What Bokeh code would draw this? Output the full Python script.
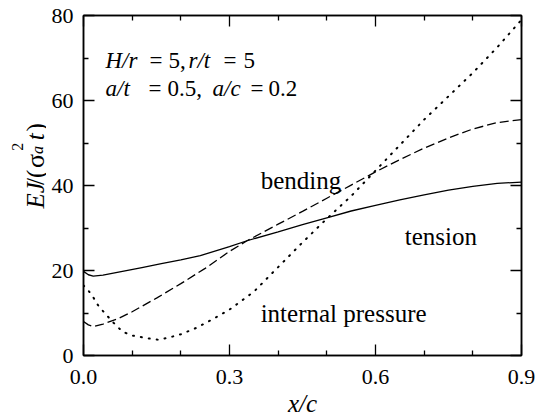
import math
from bokeh.plotting import figure
from bokeh.layouts import row
from bokeh.models import FixedTicker, LinearAxis, Label, Range1d, PrintfTickFormatter
from bokeh.embed import file_html
from bokeh.resources import INLINE

# ---- data ----
x_tension = [0, 0.01, 0.02, 0.04, 0.08, 0.12, 0.16, 0.2, 0.24, 0.3, 0.336, 0.4, 0.45,
             0.5, 0.55, 0.6, 0.65, 0.7, 0.75, 0.8, 0.85, 0.9]
y_tension = [19.8, 19.0, 18.7, 18.9, 19.8, 20.7, 21.6, 22.5, 23.5, 25.6, 27.0, 29.1, 30.8,
             32.4, 34.0, 35.3, 36.6, 37.8, 38.9, 39.8, 40.5, 40.8]

x_bending = [0, 0.01, 0.02, 0.04, 0.07, 0.1, 0.15, 0.2, 0.25, 0.3, 0.336, 0.4, 0.45,
             0.5, 0.55, 0.6, 0.65, 0.7, 0.75, 0.8, 0.85, 0.9]
y_bending = [8.0, 7.2, 6.8, 7.4, 8.6, 10.3, 13.5, 16.9, 20.5, 24.5, 27.0, 30.9, 33.9,
             37.0, 40.1, 43.2, 46.1, 48.8, 51.2, 53.3, 54.8, 55.5]

x_pressure = [0, 0.01, 0.02, 0.03, 0.045, 0.06, 0.08, 0.1, 0.12, 0.14, 0.155, 0.175, 0.2,
              0.23, 0.26, 0.3, 0.35, 0.4, 0.45, 0.5, 0.55, 0.6, 0.65, 0.7, 0.75, 0.8,
              0.85, 0.9]
y_pressure = [16.5, 15.3, 13.7, 11.8, 9.8, 7.9, 5.6, 4.7, 4.3, 3.9, 3.7, 4.2, 5.0,
              6.4, 8.2, 10.8, 15.0, 20.8, 26.6, 32.2, 37.5, 43.5, 49.5, 55.5, 61.0, 66.5,
              72.5, 79.0]

x_ticks = [0.0, 0.3, 0.6, 0.9]
x_minor = [0.1, 0.2, 0.4, 0.5, 0.7, 0.8]
y_ticks = [0, 20, 40, 60, 80]
y_minor = [10, 30, 50, 70]

curve_labels = [("bending", 0.364, 41.2), ("tension", 0.660, 28.0),
                ("internal pressure", 0.364, 9.9)]

FONT = "Liberation Serif"

# geometry (pixels)
W, H = 546, 417
LW = 46                       # width of the strip that carries the y label
FL, FR, FT, FB = 83, 521, 15, 355

p = figure(frame_width=FR - FL, frame_height=FB - FT,
           x_range=Range1d(0, 0.9), y_range=Range1d(0, 80),
           output_backend="svg", toolbar_location=None,
           min_border_left=FL - LW, min_border_right=W - FR, min_border_top=FT,
           min_border_bottom=H - FB, x_axis_type=None, y_axis_type=None)
p.xgrid.visible = False
p.ygrid.visible = False
p.outline_line_color = "black"
p.outline_line_width = 1.5
p.background_fill_color = "white"
p.border_fill_color = "white"


def px2x(px):
    return (px - FL) * 0.9 / (FR - FL)


def py2y(py):
    return (FB - py) * 80.0 / (FB - FT)


def make_axis(ticks, minor, fmt, labels=True):
    ax = LinearAxis(ticker=FixedTicker(ticks=ticks, minor_ticks=minor),
                    formatter=PrintfTickFormatter(format=fmt))
    ax.major_tick_in = 11
    ax.major_tick_out = 0
    ax.minor_tick_in = 5
    ax.minor_tick_out = 0
    ax.major_tick_line_width = 1.3
    ax.minor_tick_line_width = 1.3
    ax.axis_line_width = 1.5
    ax.major_label_text_font = FONT
    ax.major_label_text_font_size = "22px"
    ax.major_label_text_color = "black"
    if not labels:
        ax.major_label_text_font_size = "0px"
        ax.major_label_overrides = {t: "" for t in ticks}
        ax.major_label_standoff = 0
    return ax


xb = make_axis(x_ticks, x_minor, "%.1f")
xb.major_label_standoff = 14
xb.axis_label = "x/c"
xb.axis_label_text_font = FONT
xb.axis_label_text_font_style = "italic"
xb.axis_label_text_font_size = "25px"
xb.axis_label_text_color = "black"
xb.axis_label_standoff = 3
p.add_layout(xb, "below")
yl = make_axis(y_ticks, y_minor, "%d")
yl.major_label_standoff = 10
p.add_layout(yl, "left")
p.add_layout(make_axis(x_ticks, x_minor, "%.1f", labels=False), "above")
p.add_layout(make_axis(y_ticks, y_minor, "%d", labels=False), "right")

p.line(x_tension, y_tension, line_color="black", line_width=1.3)
p.line(x_bending, y_bending, line_color="black", line_width=1.3, line_dash="9 4")
p.line(x_pressure, y_pressure, line_color="black", line_width=2.0, line_dash="1 7",
       line_cap="round")

for txt, lx, ly in curve_labels:
    p.add_layout(Label(x=lx, y=ly, text=txt, text_font=FONT, text_font_size="25px",
                       text_color="black", text_baseline="alphabetic"))


def piece(fig, text, x, y, size="23px", style="normal", angle=0.0):
    fig.add_layout(Label(x=x, y=y, text=text, text_font=FONT,
                         text_font_size=size, text_font_style=style, angle=angle,
                         text_color="black", text_baseline="alphabetic",
                         text_align="left"))


# parameter annotation
for txt, px, py, st in [("H/r", 105, 60, "italic"), ("=", 149, 60, "normal"),
                        ("5,", 168, 60, "normal"), ("r/t", 188, 60, "italic"),
                        ("=", 223, 60, "normal"), ("5", 243, 60, "normal"),
                        ("a/t", 105, 88, "italic"), ("=", 148, 88, "normal"),
                        ("0.5,", 167, 88, "normal"), ("a/c", 212, 88, "italic"),
                        ("=", 250, 88, "normal"), ("0.2", 268, 88, "normal")]:
    piece(p, txt, px2x(px), py2y(py), style=st)

# strip on the left carrying the rotated y label (data units = pixels, y up)
q = figure(width=LW, height=H, x_range=Range1d(0, LW), y_range=Range1d(0, H),
           output_backend="svg", toolbar_location=None, min_border=0,
           x_axis_type=None, y_axis_type=None)
q.xgrid.visible = False
q.ygrid.visible = False
q.outline_line_color = None
q.background_fill_color = "white"
q.border_fill_color = "white"

A = math.pi / 2
for txt, px, py, size, st in [("EJ", 35, 238, "25px", "italic"),
                              ("/(", 35, 209, "25px", "normal"),
                              ("σ", 35, 188, "26px", "normal"),
                              ("a", 37, 171, "16px", "italic"),
                              ("2", 17, 167, "16px", "normal"),
                              ("t", 35, 154, "25px", "italic"),
                              (")", 35, 143, "25px", "normal")]:
    piece(q, txt, px, H - py, size=size, style=st, angle=A)

layout = row(q, p, spacing=0)
open("out.html", "w").write(file_html(layout, INLINE))
